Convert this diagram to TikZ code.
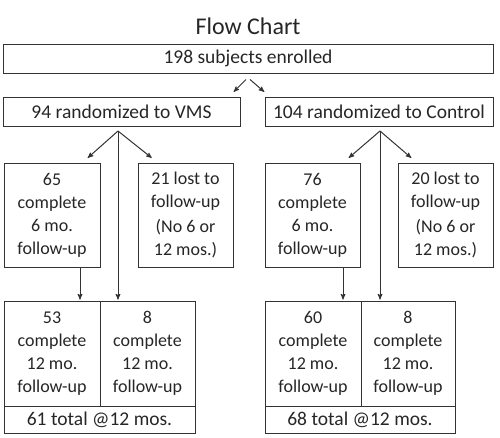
\documentclass[tikz,border=0pt]{standalone}
\usepackage{fontspec}
\setmainfont{Carlito}
\usetikzlibrary{arrows}

\begin{document}
\begin{tikzpicture}[x=1pt,y=-1pt,>=stealth',shorten >=1pt,
    every node/.style={text=black!85},
    box/.style={draw=black!80,line width=1pt,inner sep=0pt,align=center,
      font=\fontsize{19.5}{23}\selectfont},
    cell/.style={box,font=\fontsize{18}{23}\selectfont},
    link/.style={->,draw=black!80,line width=1pt}]
        \useasboundingbox (0,0) rectangle (500,437);

        \node (title) at (248,26) {\fontsize{24}{26}\selectfont Flow Chart};
        \node[box, minimum width=490, minimum height=29] (enr) at (248,58.5) {198 subjects enrolled};

        % two arms
        \node[box, minimum width=237, minimum height=29] (vms) at (121.5,111.5) {94 randomized to VMS};
        \node[box, minimum width=228, minimum height=29] (ctl) at (379,111.5) {104 randomized to Control};

        \node[cell, minimum width=96, minimum height=104] (sixL) at (52,215) {65\\complete\\6 mo.\\follow-up};
        \node[cell, minimum width=95, minimum height=104] (lostL) at (185.5,215) {21 lost to\\follow-up\\[2pt](No 6 or\\12 mos.)};
        \node[cell, minimum width=95, minimum height=104] (sixR) at (312.5,215) {76\\complete\\6 mo.\\follow-up};
        \node[cell, minimum width=95, minimum height=104] (lostR) at (445.5,215) {20 lost to\\follow-up\\[2pt](No 6 or\\12 mos.)};

        \node[cell, minimum width=96, minimum height=105] (twL) at (52,353.5) {53\\complete\\12 mo.\\follow-up};
        \node[cell, minimum width=95, minimum height=105] (twLb) at (147.5,353.5) {8\\complete\\12 mo.\\follow-up};
        \node[box, minimum width=191, minimum height=27] (totL) at (99.5,419.5) {61 total @12 mos.};
        \node[cell, minimum width=96, minimum height=105] (twR) at (313,353.5) {60\\complete\\12 mo.\\follow-up};
        \node[cell, minimum width=94, minimum height=105] (twRb) at (408,353.5) {8\\complete\\12 mo.\\follow-up};
        \node[box, minimum width=190, minimum height=27] (totR) at (360,419.5) {68 total @12 mos.};

        \coordinate (hubL) at (118,131);
        \coordinate (hubR) at (380,131);

        \draw[link] ([xshift=-2,yshift=-6]enr.south) -- ([xshift=-15,yshift=-19]enr.south);
        \draw[link] ([xshift=2,yshift=-6]enr.south) -- ([xshift=17,yshift=-19]enr.south);

        \draw[link] (hubL) -- ([xshift=35,yshift=4]sixL.north);
        \draw[link] (hubL) -- ([xshift=-33,yshift=4]lostL.north);
        \draw[link] (hubL) -- (hubL |- twL.north);
        \draw[link] ([xshift=28]sixL.south) -- ([xshift=28]twL.north);

        \draw[link] (hubR) -- ([xshift=35.5,yshift=4]sixR.north);
        \draw[link] (hubR) -- ([xshift=-33.5,yshift=4]lostR.north);
        \draw[link] (hubR) -- (hubR |- twR.north);
        \draw[link] ([xshift=30.5]sixR.south) -- ([xshift=30]twR.north);
      \end{tikzpicture}
\end{document}
